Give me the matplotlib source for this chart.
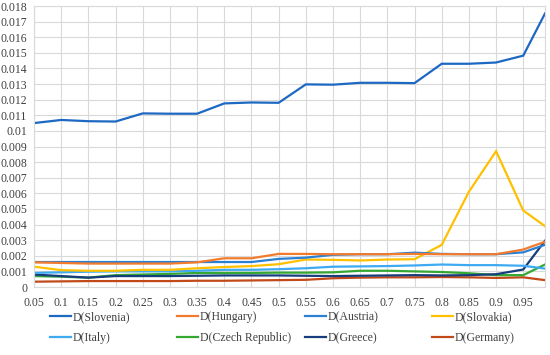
import numpy as np
import matplotlib
matplotlib.use("Agg")
import matplotlib.pyplot as plt
from matplotlib.ticker import FuncFormatter

# valores
x = [0.05, 0.1, 0.15, 0.2, 0.25, 0.3, 0.35, 0.4, 0.45, 0.5,
     0.55, 0.6, 0.65, 0.7, 0.75, 0.8, 0.85, 0.9, 0.95, 0.99]

slovenia = [0.0105, 0.0107, 0.01062, 0.0106, 0.01112, 0.0111, 0.0111, 0.01176, 0.01182, 0.0118,
            0.01298, 0.01296, 0.01308, 0.01308, 0.01306, 0.0143, 0.0143, 0.01438, 0.01482, 0.01752]
hungary = [0.00158, 0.00154, 0.0015, 0.0015, 0.0015, 0.0015, 0.00158, 0.00184, 0.00184, 0.00212,
           0.00212, 0.0021, 0.0021, 0.0021, 0.00212, 0.0021, 0.0021, 0.0021, 0.0024, 0.0029]
austria = [0.0016, 0.0016, 0.0016, 0.0016, 0.0016, 0.0016, 0.0016, 0.0016, 0.0016, 0.0018,
           0.00188, 0.00206, 0.0021, 0.0021, 0.0022, 0.00212, 0.0021, 0.0021, 0.00222, 0.0027]
slovakia = [0.0013, 0.00108, 0.00104, 0.00104, 0.0011, 0.0011, 0.0012, 0.00128, 0.00134, 0.00146,
            0.00176, 0.00174, 0.0017, 0.00176, 0.00178, 0.0027, 0.0061, 0.0087, 0.0049, 0.0039]
italy = [0.0009, 0.00094, 0.00098, 0.001, 0.001, 0.001, 0.00104, 0.0011, 0.0011, 0.00114,
         0.0012, 0.0013, 0.00132, 0.00134, 0.00138, 0.00144, 0.0014, 0.0014, 0.00136, 0.00118]
czech = [0.0007, 0.00066, 0.0006, 0.00076, 0.0008, 0.00084, 0.0009, 0.0009, 0.0009, 0.00092,
         0.00092, 0.00094, 0.00104, 0.00104, 0.001, 0.00096, 0.00088, 0.00076, 0.00076, 0.00144]
greece = [0.0008, 0.0007, 0.0006, 0.0007, 0.0007, 0.0007, 0.00072, 0.00074, 0.00074, 0.00074,
          0.00072, 0.0007, 0.00072, 0.00074, 0.00076, 0.00074, 0.00076, 0.00082, 0.00112, 0.00296]
germany = [0.00034, 0.00036, 0.00038, 0.00038, 0.00038, 0.00038, 0.0004, 0.0004, 0.00042, 0.00044,
           0.00046, 0.00056, 0.0006, 0.00062, 0.00062, 0.00064, 0.00062, 0.00058, 0.00062, 0.00044]

xtick_labels = ["0.05", "0.1", "0.15", "0.2", "0.25", "0.3", "0.35", "0.4", "0.45", "0.5",
                "0.55", "0.6", "0.65", "0.7", "0.75", "0.8", "0.85", "0.9", "0.95"]

series = [
    ("D(Slovenia)", slovenia, "#1d68c2"),
    ("D(Hungary)", hungary, "#f37b2d"),
    ("D(Austria)", austria, "#2c80d3"),
    ("D(Slovakia)", slovakia, "#ffc000"),
    ("D(Italy)", italy, "#3daaf2"),
    ("D(Czech Republic)", czech, "#35a834"),
    ("D(Greece)", greece, "#173e7c"),
    ("D(Germany)", germany, "#c24a1a"),
]

plt.rcParams['font.family'] = ['Liberation Serif', 'DejaVu Serif']

fig = plt.figure(figsize=(5.5, 3.55), dpi=100)
ax = fig.add_axes([34 / 550, 1 - 287 / 355, 511 / 550, 281 / 355])

handles = {}
# orden de dibujo: las de abajo primero
draw_order = ["D(Germany)", "D(Czech Republic)", "D(Greece)", "D(Italy)",
              "D(Slovakia)", "D(Austria)", "D(Hungary)", "D(Slovenia)"]
lookup = {s[0]: s for s in series}
for name in draw_order:
    nombre, vals, col = lookup[name]
    ln, = ax.plot(x, vals, color=col, lw=1.6, solid_joinstyle='miter')
    handles[nombre] = ln

ax.set_xlim(0.05, 0.99)
ax.set_ylim(0, 0.018)
ax.set_xticks(np.arange(19) * 0.05 + 0.05)
ax.set_xticklabels(xtick_labels)
ax.set_yticks(np.arange(19) * 0.001)
ax.yaxis.set_major_formatter(FuncFormatter(lambda v, p: f"{round(v, 3):g}"))

ax.grid(True, color="#d9d9d9", lw=0.8)
ax.set_axisbelow(True)
for s in ax.spines.values():
    s.set_color("#d9d9d9")
    s.set_linewidth(0.8)
ax.tick_params(length=0, labelsize=8.5, colors="#404040")
ax.tick_params(axis='x', pad=7)
ax.tick_params(axis='y', pad=5)

# leyenda: 4 columnas colocadas a mano
col_x = [50, 177, 305, 432]
names = [s[0] for s in series]
for i, cx in enumerate(col_x):
    pair = [names[i], names[i + 4]]
    leg = fig.legend([handles[n] for n in pair], pair, loc='upper left',
                     bbox_to_anchor=(cx / 550, 1 - 311 / 355), frameon=False,
                     fontsize=8.5, handlelength=1.8, handletextpad=0.15,
                     labelspacing=0.8, borderpad=0, borderaxespad=0)
    for t in leg.get_texts():
        t.set_color("#404040")

fig.savefig("out.png", dpi=100)
